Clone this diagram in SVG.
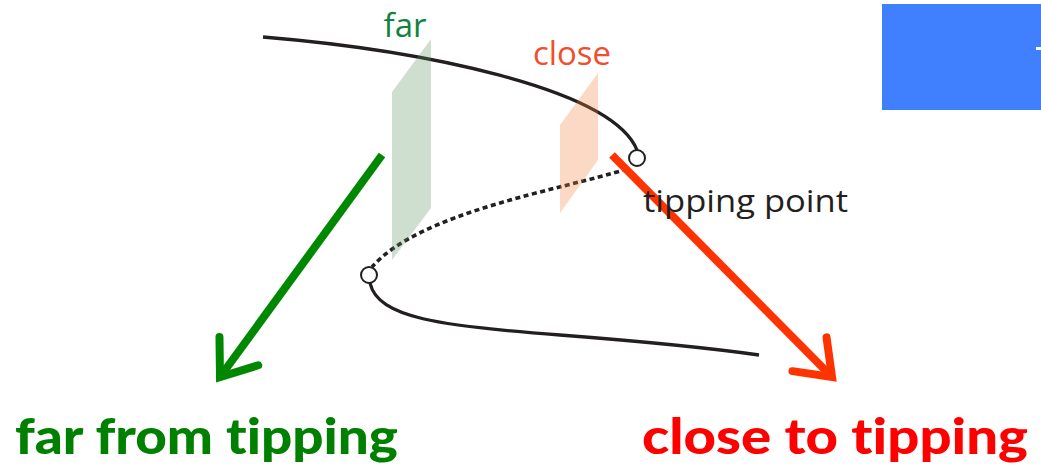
<svg xmlns="http://www.w3.org/2000/svg" width="1041" height="473" viewBox="0 0 1041 473">
  <style>
    .curve { fill: none; stroke: #231f20; stroke-width: 3.3; stroke-linecap: butt; }
    .dashed { stroke-width: 3.6; stroke-dasharray: 5 3.5; }
    .node-dot { fill: #ffffff; stroke: #231f20; stroke-width: 2; }
    .plane { stroke: none; opacity: 0.3; }
    .arrow { fill: none; stroke-width: 8; }
    .label { font-family: "Open Sans", "Noto Sans", sans-serif; }
    .caption { font-family: Lato, "Liberation Sans", sans-serif; font-weight: 900; font-size: 50px; font-variant-ligatures: none; }
  </style>
  <defs>
    <marker id="head-green" viewBox="-6 -5 8 10" refX="0" refY="0" markerWidth="8" markerHeight="10" markerUnits="strokeWidth" orient="auto" overflow="visible">
      <path d="M-4,-3 L0,0 L-4,3" fill="none" stroke="#008800" stroke-width="1" stroke-linecap="round" stroke-linejoin="miter"/>
    </marker>
    <marker id="head-red" viewBox="-6 -5 8 10" refX="0" refY="0" markerWidth="8" markerHeight="10" markerUnits="strokeWidth" orient="auto" overflow="visible">
      <path d="M-4,-3 L0,0 L-4,3" fill="none" stroke="#ff3300" stroke-width="1" stroke-linecap="round" stroke-linejoin="miter"/>
    </marker>
  </defs>

  <rect width="1041" height="473" fill="#ffffff"/>

  <!-- blue panel at the top right -->
  <g id="panel">
    <rect x="882" y="4" width="159" height="106" fill="#4080ff"/>
    <rect x="1036" y="47" width="5" height="3" fill="#ffffff"/>
  </g>

  <!-- S-shaped equilibrium curve with its two fold points -->
  <g id="connectors">
    <path id="upper-branch" class="curve" d="M263,37 C420,50 612,88 637,150"/>
    <path id="middle-branch" class="curve dashed" d="M627,169 C560,190 420,212 372,267"/>
    <path id="lower-branch" class="curve" d="M370,283 C378,318 440,326 560,335 C650,342 710,348 759,355"/>
    <path id="arrow-far" class="arrow" stroke="#008800" d="M382,155 L220,377" marker-end="url(#head-green)"/>
    <path id="arrow-close" class="arrow" stroke="#ff3300" d="M612,155 L832,377" marker-end="url(#head-red)"/>
  </g>

  <g id="fold-upper">
    <circle class="node-dot" cx="637" cy="158" r="8"/>
  </g>
  <g id="fold-lower">
    <circle class="node-dot" cx="369" cy="275" r="8"/>
  </g>

  <!-- sampling planes -->
  <g id="plane-far">
    <polygon class="plane" fill="#5f945f" points="392,92 431,39 431,208 392,260"/>
    <text class="label" x="405" y="37" font-size="33" fill="#13813f" text-anchor="middle">far</text>
  </g>
  <g id="plane-close">
    <polygon class="plane" fill="#f5803e" points="560,125 598,73 598,160 560,213"/>
    <text class="label" x="572" y="65" font-size="33" fill="#f04e2e" text-anchor="middle" textLength="78" lengthAdjust="spacingAndGlyphs">close</text>
  </g>

  <g id="tipping-point">
    <text class="label" x="643" y="212" font-size="31" fill="#231f20" textLength="205" lengthAdjust="spacingAndGlyphs">tipping point</text>
  </g>

  <g id="caption-far">
    <text class="caption" x="15" y="454" fill="#008000" textLength="383" lengthAdjust="spacingAndGlyphs">far from tipping</text>
  </g>
  <g id="caption-close">
    <text class="caption" x="642" y="454" fill="#ff0000" textLength="386" lengthAdjust="spacingAndGlyphs">close to tipping</text>
  </g>
</svg>
